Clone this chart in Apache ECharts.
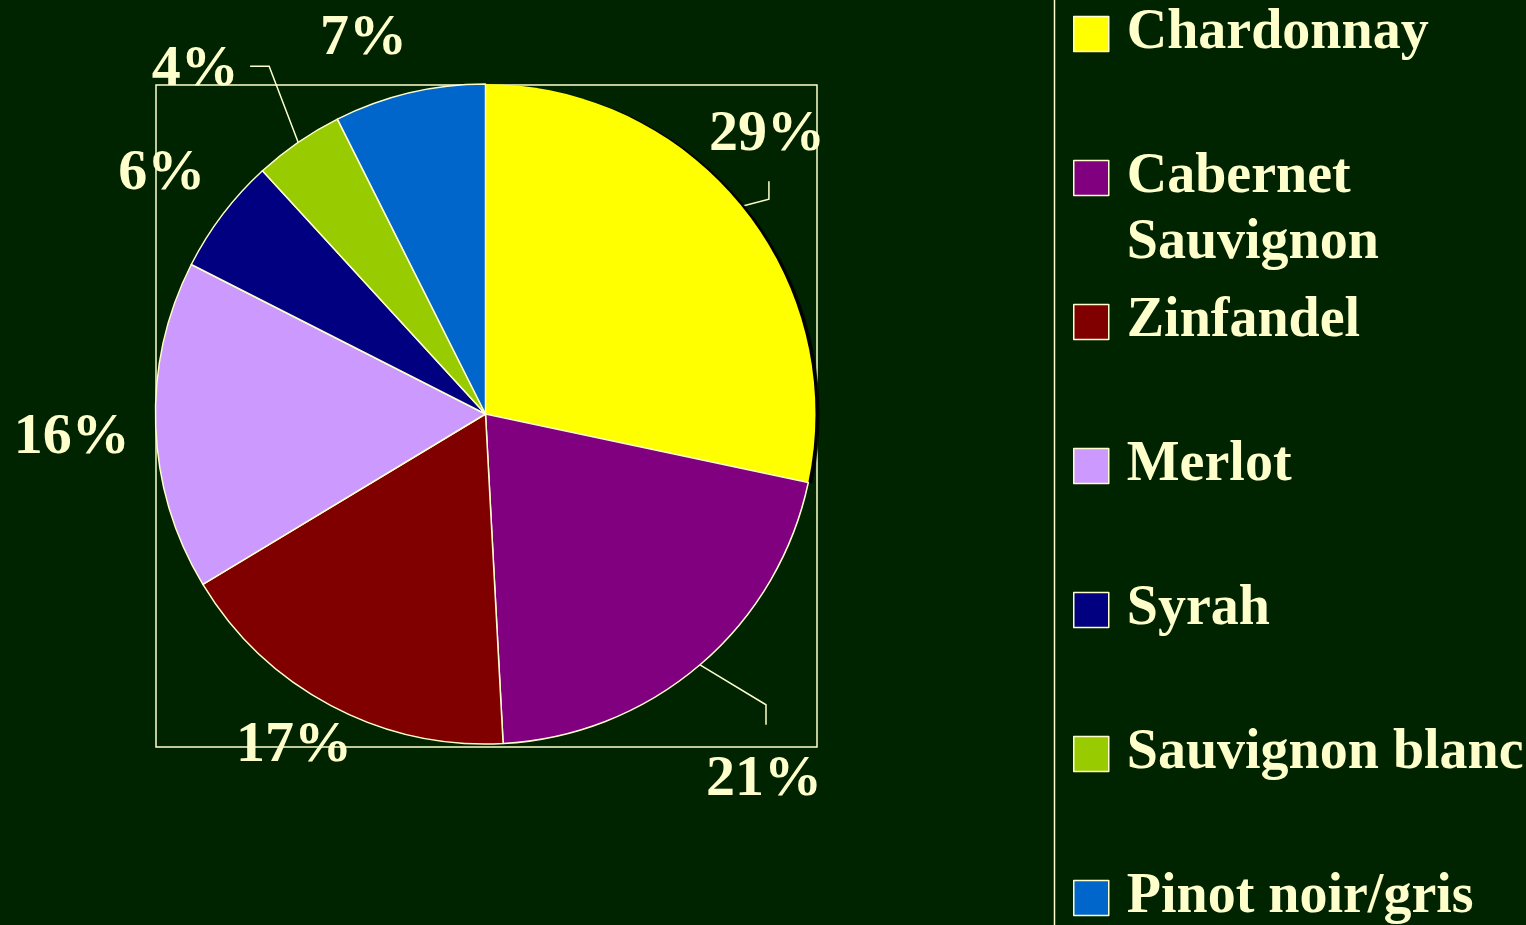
<!DOCTYPE html>
<html><head><meta charset="utf-8">
<script src="https://cdn.jsdelivr.net/npm/echarts@6/dist/echarts.min.js"></script>
<style>html,body{margin:0;padding:0;background:#002400;} #main{width:1526px;height:925px;}</style>
</head><body><div id="main"></div>
<script>
// ---- data ----
const categories = ['Chardonnay', 'Cabernet Sauvignon', 'Zinfandel', 'Merlot', 'Syrah', 'Sauvignon blanc', 'Pinot noir/gris'];
const shares = [28.3, 20.8, 17.2, 16.1, 5.7, 4.4, 7.4];
const percentLabels = ['29%', '21%', '17%', '16%', '6%', '4%', '7%'];
const legendLabels = ['Chardonnay', 'Cabernet\nSauvignon', 'Zinfandel', 'Merlot', 'Syrah', 'Sauvignon blanc', 'Pinot noir/gris'];

// ---- styles / layout ----
const colors = ['#FFFF00', '#800080', '#800000', '#CC99FF', '#000080', '#99CC00', '#0066CC'];
const ink = '#FFFFCC';
// label centre offset from the slice's outer-edge midpoint
const labelOffsets = [[25, -71], [64, 115], [-37, 40], [-84, 12], [-61, -40], [-103, -72], [-46, -54]];
// leader-line bends (offsets from the slice's outer-edge midpoint)
const leaderBends = {0: [[27, -7], [27, -25]], 1: [[66, 40], [66, 60]], 5: [[-29, -76], [-48, -76]]};

const chart = echarts.init(document.getElementById('main'));

function edgePoint(idx) {
  const lay = chart.getModel().getSeriesByIndex(0).getData().getItemLayout(idx);
  const mid = (lay.startAngle + lay.endAngle) / 2;
  return [lay.cx + lay.r * Math.cos(mid), lay.cy + lay.r * Math.sin(mid)];
}

chart.setOption({
  backgroundColor: '#002400',
  animation: false,
  graphic: [
    {type: 'rect', z: 0, silent: true, shape: {x: 156, y: 85, width: 661, height: 662},
     style: {fill: null, stroke: ink, lineWidth: 1.5}},
    {type: 'line', z: 0, silent: true, shape: {x1: 1054.5, y1: 0, x2: 1054.5, y2: 925},
     style: {stroke: ink, lineWidth: 1.5}}
  ],
  legend: {
    orient: 'vertical', left: 1073, top: -65, height: 1500, padding: 0,
    itemWidth: 35, itemHeight: 35, itemGap: -54, icon: 'rect',
    selectedMode: false,
    itemStyle: {borderColor: ink, borderWidth: 1.5},
    formatter: function (name) {
      const t = legendLabels[categories.indexOf(name)];
      // first text line is centred on the swatch; every entry occupies three lines
      return t.indexOf('\n') >= 0 ? ' \n' + t : ' \n' + t + '\n ';
    },
    textStyle: {color: ink, fontFamily: 'Liberation Serif', fontWeight: 'bold', fontSize: 56,
                lineHeight: 66, padding: [0, 0, 0, 13]},
    data: categories
  },
  series: [{
    type: 'pie',
    center: [485.5, 414], radius: 330,
    startAngle: 90, clockwise: true,
    avoidLabelOverlap: false,
    silent: true,
    itemStyle: {borderColor: ink, borderWidth: 1.5},
    label: {show: true, position: 'outside', overflow: 'none',
            formatter: function (p) { return percentLabels[p.dataIndex]; },
            color: ink, fontFamily: 'Liberation Serif', fontWeight: 'bold', fontSize: 58},
    labelLine: {show: true, lineStyle: {color: ink, width: 1.5}},
    labelLayout: function (p) {
      const e = edgePoint(p.dataIndex);
      const o = labelOffsets[p.dataIndex];
      const res = {x: e[0] + o[0], y: e[1] + o[1], align: 'center', verticalAlign: 'middle'};
      const b = leaderBends[p.dataIndex];
      if (b) {
        res.labelLinePoints = [[e[0], e[1]], [e[0] + b[0][0], e[1] + b[0][1]], [e[0] + b[1][0], e[1] + b[1][1]]];
      }
      return res;
    },
    data: categories.map(function (n, i) {
      const item = {name: n, value: shares[i], itemStyle: {color: colors[i]},
                    labelLine: {show: leaderBends[i] !== undefined}};
      if (i === 0) {
        // dark drop shadow along the right rim of the first slice
        item.itemStyle.borderWidth = 0;
        item.itemStyle.shadowColor = '#000000';
        item.itemStyle.shadowBlur = 1;
        item.itemStyle.shadowOffsetX = 4;
        item.itemStyle.shadowOffsetY = 1;
      }
      return item;
    })
  }]
});
</script>
</body></html>
